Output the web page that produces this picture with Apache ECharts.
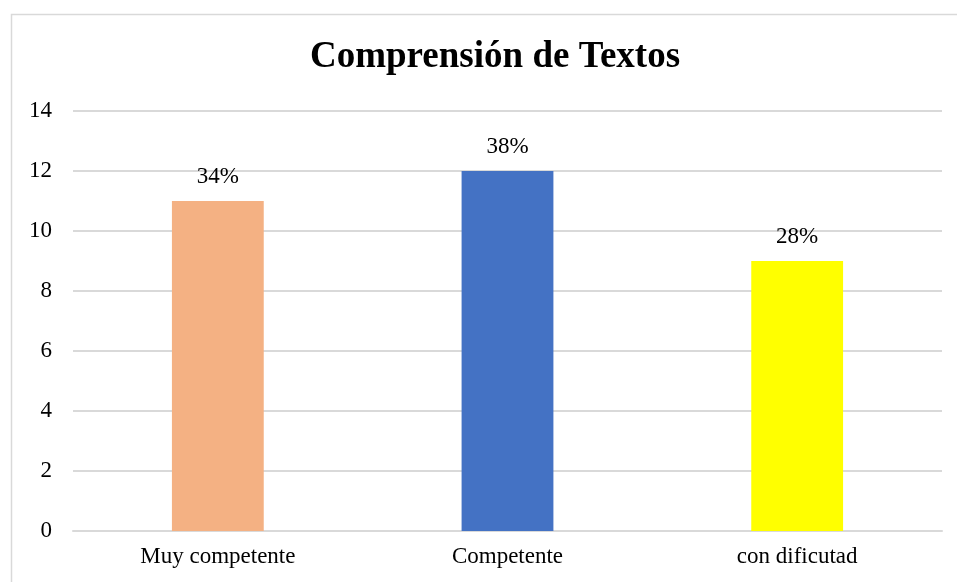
<!DOCTYPE html>
<html>
<head>
<meta charset="utf-8">
<script src="https://cdn.jsdelivr.net/npm/echarts@6/dist/echarts.min.js"></script>
<style>
    html, body { margin: 0; padding: 0; background: #fff; }
    #chart { width: 957px; height: 582px; }
</style>
</head>
<body>
<div id="chart"></div>
<script>
const categories = ['Muy competente', 'Competente', 'con dificutad'];
const counts = [11, 12, 9];
const percentLabels = ['34%', '38%', '28%'];
const barColors = ['#F4B183', '#4472C4', '#FFFF00'];

const fontFamily = '"Liberation Serif", "Times New Roman", serif';

const chartDom = document.getElementById('chart');
const myChart = echarts.init(chartDom);
const option = {
    backgroundColor: '#fff',
    animation: false,
    title: {
        text: 'Comprensión de Textos',
        left: 305,
        top: 34,
        textStyle: {
            fontFamily: fontFamily,
            fontSize: 37,
            fontWeight: 'bold',
            color: '#000'
        }
    },
    graphic: [{
        type: 'rect',
        shape: { x: 11.5, y: 14.5, width: 1000, height: 700 },
        style: { fill: 'none', stroke: '#d9d9d9', lineWidth: 1.5 },
        silent: true
    }],
    grid: {
        left: 73,
        right: 15,
        top: 111,
        bottom: 51
    },
    xAxis: {
        type: 'category',
        data: categories,
        axisLine: { show: true, lineStyle: { color: '#d9d9d9', width: 2 } },
        axisTick: { show: false },
        axisLabel: {
            fontFamily: fontFamily,
            fontSize: 23,
            color: '#000',
            margin: 14
        }
    },
    yAxis: {
        type: 'value',
        min: 0,
        max: 14,
        interval: 2,
        axisLine: { show: false },
        axisTick: { show: false },
        axisLabel: {
            fontFamily: fontFamily,
            fontSize: 23,
            color: '#000',
            margin: 21
        },
        splitLine: { lineStyle: { color: '#d9d9d9', width: 2 } }
    },
    series: [{
        name: 'Comprensión de Textos',
        type: 'bar',
        barWidth: '31.7%',
        data: counts.map((v, i) => ({
            value: v,
            itemStyle: { color: barColors[i] }
        })),
        label: {
            show: true,
            position: 'top',
            distance: 13,
            fontFamily: fontFamily,
            fontSize: 23,
            color: '#000',
            formatter: p => percentLabels[p.dataIndex]
        }
    }]
};
myChart.setOption(option);
</script>
</body>
</html>
